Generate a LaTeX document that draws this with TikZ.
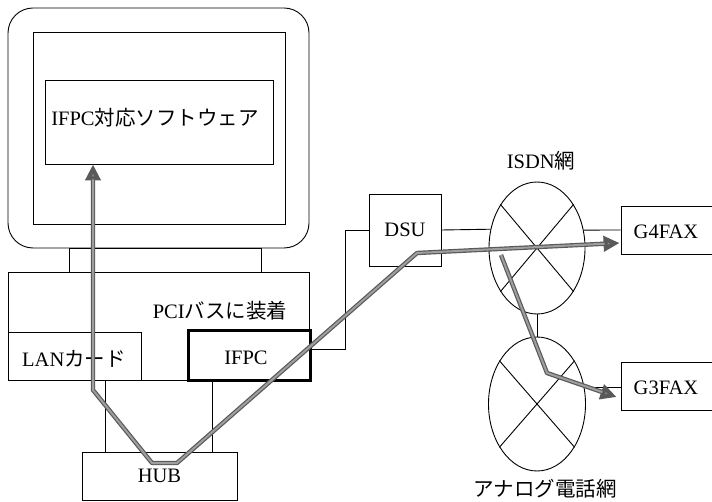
\documentclass[tikz,border=0pt]{standalone}
\usepackage{fontspec}
\setmainfont{Liberation Serif}
\newfontfamily\jp{Noto Sans CJK JP}
\usetikzlibrary{arrows.meta,shapes.geometric}
\begin{document}
\begin{tikzpicture}[x=1pt,y=-1pt,
  every node/.style={font=\fontsize{20.5}{22}\selectfont, inner sep=0pt},
  box/.style={draw, line width=0.9pt, rectangle},
  net/.style={draw, line width=0.9pt, ellipse},
  wire/.style={line width=0.9pt},
  gline/.style={line width=4.4pt, draw=black!65, line join=round,
     {Triangle[length=16pt,width=15pt,fill=black!50]}-{Triangle[length=16pt,width=15pt,fill=black!50]}},
  gline1/.style={line width=4.4pt, draw=black!65, line join=round,
     -{Triangle[length=16pt,width=15pt,fill=black!50]}},
  gin/.style={line width=2pt, draw=black!38, line join=round}]
\useasboundingbox (0,0) rectangle (712,502);
\clip (0,0) rectangle (712,502);
% computer
\node[box, rounded corners=25pt, minimum width=301pt, minimum height=240pt] (monitor) at (158.5,128) {};
\node[box, minimum width=252pt, minimum height=192pt] (screen) at (159,128) {};
\node[box, minimum width=228pt, minimum height=84pt] (soft) at (159,122) {};
\node (softlbl) at (155,118) {IFPC{\jp 対応ソフトウェア}};
\node[box, minimum width=192pt, minimum height=24pt] (stand) at (165,260) {};
\node[box, minimum width=301pt, minimum height=108pt] (body) at (158.5,326) {};
\node (pcilbl) at (220,311) {PCI{\jp バスに装着}};
\node[box, fill=white, minimum width=133pt, minimum height=48pt] (lan) at (74.5,356) {};
\node (lanlbl) at (74,359) {LAN{\jp カード}};
\node[box, fill=white, line width=3pt, minimum width=122pt, minimum height=50pt] (ifpc) at (249,356) {};
\node (ifpclbl) at (246,358) {IFPC};
\node[box, minimum width=155pt, minimum height=48pt] (hub) at (159.5,476) {HUB};
% network
\node[box, minimum width=72pt, minimum height=72pt] (dsu) at (405,230) {DSU};
\node[net, minimum width=96pt, minimum height=132pt] (isdn) at (537,248) {};
\node (isdnlbl) at (541,161) {ISDN{\jp 網}};
\node[net, minimum width=97pt, minimum height=134pt] (analog) at (537,404) {};
\node (analoglbl) at (545,489) {\jp アナログ電話網};
\node[box, minimum width=119pt, minimum height=48pt] (g4) at (680.5,230) {};
\node (g4lbl) at (666,232) {G4FAX};
\node[box, minimum width=119pt, minimum height=48pt] (g3) at (680.5,386) {};
\node (g3lbl) at (666,388) {G3FAX};
% crosses
\draw[wire] (isdn.50) -- (isdn.230) (isdn.130) -- (isdn.310);
\draw[wire] (analog.49) -- (analog.229) (analog.131) -- (analog.311);
% wires
\draw[wire] ([xshift=30.5pt]lan.south) -- ([xshift=30.5pt]lan.south |- hub.north);
\draw[wire] ([xshift=-37pt]ifpc.south) -- ([xshift=-37pt]ifpc.south |- hub.north);
\draw[wire] ([yshift=7pt]ifpc.east) -- ++(34,0) |- (dsu.west);
\draw[wire] (dsu.east) -- (isdn.158.7);
\draw[wire] (isdn.21.3) -- (g4.west);
\draw[wire] (isdn.south) -- (analog.north);
\draw[wire] (analog.19.9) -- (analog.19.9 -| g3.west);
% grey flows
\coordinate (a1) at (93,390);
\coordinate (a2) at (152,463);
\coordinate (a3) at (177,463);
\coordinate (a4) at (417,253);
\coordinate (b0) at (501,255);
\coordinate (b1) at (547,373);
\coordinate (softin) at ([xshift=-66pt]soft.south);
\coordinate (g4in) at ([xshift=-1pt,yshift=-13pt]g4.west);
\coordinate (g3in) at ([xshift=-4pt,yshift=-11pt]g3.west);
\draw[gline] (softin) -- (a1) -- (a2) -- (a3) -- (a4) -- (g4in);
\draw[gin, shorten <=15pt, shorten >=15pt] (softin) -- (a1) -- (a2) -- (a3) -- (a4) -- (g4in);
\draw[gline1] (b0) -- (b1) -- (g3in);
\draw[gin, shorten >=15pt] (b0) -- (b1) -- (g3in);
\end{tikzpicture}
\end{document}
